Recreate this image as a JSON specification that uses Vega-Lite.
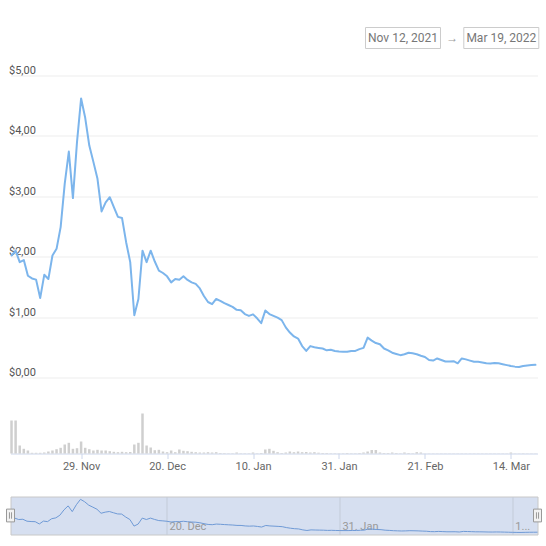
{
  "$schema": "https://vega.github.io/schema/vega-lite/v6.json",
  "padding": {"left": 3.5, "top": 24.5, "right": 4, "bottom": 10},
  "background": "white",
  "config": {"font": "Roboto", "view": {"stroke": null}},
  "datasets": {
    "header": [
      {"part": "from", "text": "Nov 12, 2021"},
      {"part": "arrow", "text": "→"},
      {"part": "to", "text": "Mar 19, 2022"}
    ],
    "range": [{"date": "2021-11-12"}, {"date": "2022-03-20"}],
    "prices": [
      {"date": "2021-11-12", "price": 2.02, "volume": 33},
      {"date": "2021-11-13", "price": 2.10, "volume": 33},
      {"date": "2021-11-14", "price": 1.91, "volume": 8},
      {"date": "2021-11-15", "price": 1.945, "volume": 4.7},
      {"date": "2021-11-16", "price": 1.685, "volume": 3},
      {"date": "2021-11-17", "price": 1.64, "volume": 0.7},
      {"date": "2021-11-18", "price": 1.62, "volume": 0.7},
      {"date": "2021-11-19", "price": 1.315, "volume": 0.7},
      {"date": "2021-11-20", "price": 1.70, "volume": 1},
      {"date": "2021-11-21", "price": 1.63, "volume": 2},
      {"date": "2021-11-22", "price": 2.02, "volume": 3},
      {"date": "2021-11-23", "price": 2.13, "volume": 4.3},
      {"date": "2021-11-24", "price": 2.49, "volume": 5.7},
      {"date": "2021-11-25", "price": 3.21, "volume": 9},
      {"date": "2021-11-26", "price": 3.74, "volume": 10.7},
      {"date": "2021-11-27", "price": 2.97, "volume": 4.7},
      {"date": "2021-11-28", "price": 3.90, "volume": 5.3},
      {"date": "2021-11-29", "price": 4.62, "volume": 12},
      {"date": "2021-11-30", "price": 4.30, "volume": 5.7},
      {"date": "2021-12-01", "price": 3.84, "volume": 4.3},
      {"date": "2021-12-02", "price": 3.57, "volume": 3},
      {"date": "2021-12-03", "price": 3.29, "volume": 3.7},
      {"date": "2021-12-04", "price": 2.75, "volume": 3},
      {"date": "2021-12-05", "price": 2.90, "volume": 3},
      {"date": "2021-12-06", "price": 2.985, "volume": 2.3},
      {"date": "2021-12-07", "price": 2.82, "volume": 1.7},
      {"date": "2021-12-08", "price": 2.66, "volume": 1.3},
      {"date": "2021-12-09", "price": 2.64, "volume": 1.7},
      {"date": "2021-12-10", "price": 2.24, "volume": 1.3},
      {"date": "2021-12-11", "price": 1.91, "volume": 1.5},
      {"date": "2021-12-12", "price": 1.03, "volume": 9},
      {"date": "2021-12-13", "price": 1.30, "volume": 10.7},
      {"date": "2021-12-14", "price": 2.10, "volume": 40},
      {"date": "2021-12-15", "price": 1.91, "volume": 8},
      {"date": "2021-12-16", "price": 2.10, "volume": 6},
      {"date": "2021-12-17", "price": 1.92, "volume": 3.3},
      {"date": "2021-12-18", "price": 1.77, "volume": 3.7},
      {"date": "2021-12-19", "price": 1.73, "volume": 2},
      {"date": "2021-12-20", "price": 1.675, "volume": 1.3},
      {"date": "2021-12-21", "price": 1.575, "volume": 3},
      {"date": "2021-12-22", "price": 1.63, "volume": 1.3},
      {"date": "2021-12-23", "price": 1.62, "volume": 4},
      {"date": "2021-12-24", "price": 1.675, "volume": 2.7},
      {"date": "2021-12-25", "price": 1.615, "volume": 2.3},
      {"date": "2021-12-26", "price": 1.575, "volume": 1.7},
      {"date": "2021-12-27", "price": 1.55, "volume": 1.3},
      {"date": "2021-12-28", "price": 1.475, "volume": 1},
      {"date": "2021-12-29", "price": 1.35, "volume": 1},
      {"date": "2021-12-30", "price": 1.25, "volume": 1.3},
      {"date": "2021-12-31", "price": 1.215, "volume": 1},
      {"date": "2022-01-01", "price": 1.30, "volume": 1.3},
      {"date": "2022-01-02", "price": 1.27, "volume": 0.5},
      {"date": "2022-01-03", "price": 1.23, "volume": 0.4},
      {"date": "2022-01-04", "price": 1.20, "volume": 0.3},
      {"date": "2022-01-05", "price": 1.17, "volume": 0.3},
      {"date": "2022-01-06", "price": 1.12, "volume": 1},
      {"date": "2022-01-07", "price": 1.115, "volume": 0.3},
      {"date": "2022-01-08", "price": 1.05, "volume": 0.3},
      {"date": "2022-01-09", "price": 1.02, "volume": 0.3},
      {"date": "2022-01-10", "price": 1.045, "volume": 1},
      {"date": "2022-01-11", "price": 0.98, "volume": 0.3},
      {"date": "2022-01-12", "price": 0.90, "volume": 0.5},
      {"date": "2022-01-13", "price": 1.11, "volume": 4},
      {"date": "2022-01-14", "price": 1.05, "volume": 4.7},
      {"date": "2022-01-15", "price": 1.02, "volume": 2.7},
      {"date": "2022-01-16", "price": 0.99, "volume": 1.3},
      {"date": "2022-01-17", "price": 0.95, "volume": 0.5},
      {"date": "2022-01-18", "price": 0.83, "volume": 1},
      {"date": "2022-01-19", "price": 0.745, "volume": 2},
      {"date": "2022-01-20", "price": 0.68, "volume": 1.3},
      {"date": "2022-01-21", "price": 0.645, "volume": 2},
      {"date": "2022-01-22", "price": 0.52, "volume": 1.3},
      {"date": "2022-01-23", "price": 0.44, "volume": 1.5},
      {"date": "2022-01-24", "price": 0.52, "volume": 1},
      {"date": "2022-01-25", "price": 0.50, "volume": 1.3},
      {"date": "2022-01-26", "price": 0.49, "volume": 0.8},
      {"date": "2022-01-27", "price": 0.48, "volume": 0.5},
      {"date": "2022-01-28", "price": 0.45, "volume": 0.5},
      {"date": "2022-01-29", "price": 0.46, "volume": 0.3},
      {"date": "2022-01-30", "price": 0.44, "volume": 0.3},
      {"date": "2022-01-31", "price": 0.43, "volume": 0.3},
      {"date": "2022-02-01", "price": 0.425, "volume": 0.3},
      {"date": "2022-02-02", "price": 0.425, "volume": 0.5},
      {"date": "2022-02-03", "price": 0.44, "volume": 0.3},
      {"date": "2022-02-04", "price": 0.44, "volume": 0.3},
      {"date": "2022-02-05", "price": 0.47, "volume": 0.5},
      {"date": "2022-02-06", "price": 0.49, "volume": 1},
      {"date": "2022-02-07", "price": 0.66, "volume": 2},
      {"date": "2022-02-08", "price": 0.61, "volume": 3.5},
      {"date": "2022-02-09", "price": 0.57, "volume": 3.5},
      {"date": "2022-02-10", "price": 0.55, "volume": 1},
      {"date": "2022-02-11", "price": 0.48, "volume": 0.5},
      {"date": "2022-02-12", "price": 0.45, "volume": 0.5},
      {"date": "2022-02-13", "price": 0.41, "volume": 1},
      {"date": "2022-02-14", "price": 0.39, "volume": 0.5},
      {"date": "2022-02-15", "price": 0.37, "volume": 0.3},
      {"date": "2022-02-16", "price": 0.385, "volume": 1},
      {"date": "2022-02-17", "price": 0.41, "volume": 0.5},
      {"date": "2022-02-18", "price": 0.40, "volume": 0.3},
      {"date": "2022-02-19", "price": 0.385, "volume": 1.3},
      {"date": "2022-02-20", "price": 0.36, "volume": 1},
      {"date": "2022-02-21", "price": 0.34, "volume": 0.2},
      {"date": "2022-02-22", "price": 0.29, "volume": 0.2},
      {"date": "2022-02-23", "price": 0.28, "volume": 0.2},
      {"date": "2022-02-24", "price": 0.315, "volume": 0.2},
      {"date": "2022-02-25", "price": 0.29, "volume": 0.2},
      {"date": "2022-02-26", "price": 0.265, "volume": 0.2},
      {"date": "2022-02-27", "price": 0.265, "volume": 0.2},
      {"date": "2022-02-28", "price": 0.27, "volume": 0.2},
      {"date": "2022-03-01", "price": 0.235, "volume": 0.2},
      {"date": "2022-03-02", "price": 0.315, "volume": 0.2},
      {"date": "2022-03-03", "price": 0.30, "volume": 0.2},
      {"date": "2022-03-04", "price": 0.28, "volume": 0.2},
      {"date": "2022-03-05", "price": 0.26, "volume": 0.2},
      {"date": "2022-03-06", "price": 0.26, "volume": 0.2},
      {"date": "2022-03-07", "price": 0.25, "volume": 0.2},
      {"date": "2022-03-08", "price": 0.235, "volume": 0.2},
      {"date": "2022-03-09", "price": 0.23, "volume": 0.2},
      {"date": "2022-03-10", "price": 0.24, "volume": 0.2},
      {"date": "2022-03-11", "price": 0.235, "volume": 0.2},
      {"date": "2022-03-12", "price": 0.22, "volume": 0.2},
      {"date": "2022-03-13", "price": 0.205, "volume": 0.2},
      {"date": "2022-03-14", "price": 0.19, "volume": 1},
      {"date": "2022-03-15", "price": 0.18, "volume": 0.2},
      {"date": "2022-03-16", "price": 0.175, "volume": 0.2},
      {"date": "2022-03-17", "price": 0.19, "volume": 0.2},
      {"date": "2022-03-18", "price": 0.20, "volume": 0.2},
      {"date": "2022-03-19", "price": 0.205, "volume": 0.2},
      {"date": "2022-03-20", "price": 0.21, "volume": 0.2}
    ]
  },
  "spacing": 27,
  "bounds": "flush",
  "vconcat": [
    {
      "width": 527,
      "height": 21,
      "data": {"name": "header"},
      "encoding": {
        "x": {
          "field": "part",
          "type": "nominal",
          "scale": {"type": "point", "domain": ["from", "arrow", "to"], "range": [392.5, 490.8], "padding": 0},
          "axis": null
        }
      },
      "layer": [
        {
          "transform": [{"filter": "datum.part !== 'arrow'"}],
          "mark": {"type": "point", "shape": "M-1,-0.28H1V0.28H-1Z", "size": 5625, "filled": false, "stroke": "#cccccc", "strokeWidth": 1, "opacity": 1}
        },
        {
          "mark": {"type": "text", "fontSize": 12, "font": "Roboto", "align": "center", "baseline": "middle"},
          "encoding": {
            "text": {"field": "text"},
            "color": {"condition": {"test": "datum.part === 'arrow'", "value": "#999999"}, "value": "#777777"}
          }
        }
      ]
    },
    {
      "spacing": 43,
      "bounds": "flush",
      "vconcat": [
        {
          "width": 527,
          "height": 378,
          "data": {"name": "prices"},
          "encoding": {
            "x": {
              "field": "date",
              "type": "temporal",
              "scale": {"type": "utc", "nice": false, "padding": 0, "domain": [
                {"year": 2021, "month": 11, "date": 11, "hours": 18, "utc": true},
                {"year": 2022, "month": 3, "date": 20, "hours": 12, "utc": true}
              ]},
              "axis": {
                "values": [
                  {"year": 2021, "month": 11, "date": 29, "utc": true},
                  {"year": 2021, "month": 12, "date": 20, "utc": true},
                  {"year": 2022, "month": 1, "date": 10, "utc": true},
                  {"year": 2022, "month": 1, "date": 31, "utc": true},
                  {"year": 2022, "month": 2, "date": 21, "utc": true},
                  {"year": 2022, "month": 3, "date": 14, "utc": true}
                ],
                "labelExpr": "utcFormat(datum.value, '%-d. %b')",
                "title": null,
                "grid": false,
                "domainColor": "#ccd6eb",
                "tickColor": "#ccd6eb",
                "tickSize": 5,
                "labelPadding": 2,
                "labelColor": "#666666",
                "labelFontSize": 11,
                "labelFlush": false,
                "labelOverlap": false
              }
            }
          },
          "layer": [
            {
              "mark": {"type": "bar", "size": 2.5, "color": "#cfcfcf"},
              "encoding": {
                "y": {"field": "volume", "type": "quantitative", "scale": {"domain": [0, 60], "range": [378, 318]}, "axis": null}
              }
            },
            {
              "mark": {"type": "line", "color": "#7cb5ec", "strokeWidth": 2, "strokeJoin": "round", "strokeCap": "round"},
              "encoding": {
                "y": {
                  "field": "price",
                  "type": "quantitative",
                  "scale": {"domain": [0, 5], "range": [302, 0]},
                  "axis": {
                    "values": [0, 1, 2, 3, 4, 5],
                    "labelExpr": "'$' + replace(format(datum.value, '.2f'), '.', ',')",
                    "title": null,
                    "grid": true,
                    "gridColor": "#ededed",
                    "domain": false,
                    "ticks": false,
                    "tickSize": 0,
                    "labelAlign": "left",
                    "labelBaseline": "middle",
                    "labelPadding": 2,
                    "labelOffset": -5,
                    "labelColor": "#555555",
                    "labelFontSize": 11
                  }
                }
              }
            }
          ],
          "resolve": {"scale": {"y": "independent"}}
        },
        {
          "width": 527,
          "height": 38,
          "view": {"fill": "#d6dff0", "stroke": "#c8c8c8"},
          "layer": [
            {
              "data": {"name": "prices"},
              "mark": {"type": "line", "color": "#6f9ad6", "strokeWidth": 1},
              "encoding": {
                "x": {
                  "field": "date",
                  "type": "temporal",
                  "scale": {"type": "utc", "nice": false, "domain": [
                    {"year": 2021, "month": 11, "date": 12, "utc": true},
                    {"year": 2022, "month": 3, "date": 20, "utc": true}
                  ]},
                  "axis": {
                    "values": [
                      {"year": 2021, "month": 12, "date": 20, "utc": true},
                      {"year": 2022, "month": 1, "date": 31, "utc": true},
                      {"year": 2022, "month": 3, "date": 14, "utc": true}
                    ],
                    "labelExpr": "datum.value > 1647000000000 ? truncate(utcFormat(datum.value, '%-d. %b'), 4, 'right', '...') : utcFormat(datum.value, '%-d. %b')",
                    "title": null,
                    "grid": true,
                    "gridColor": "#c3cbd8",
                    "domain": false,
                    "ticks": false,
                    "tickSize": 0,
                    "labelAlign": "left",
                    "labelBaseline": "middle",
                    "labelPadding": -8,
                    "labelOffset": 2,
                    "labelColor": "#999999",
                    "labelFontSize": 11,
                    "labelFlush": false,
                    "labelOverlap": false
                  }
                },
                "y": {"field": "price", "type": "quantitative", "scale": {"domain": [-0.1, 5], "zero": false}, "axis": null}
              }
            },
            {
              "data": {"name": "range"},
              "mark": {"type": "point", "shape": "M-0.5,-0.8H0.5V0.8H-0.5Z M-0.13,-0.4V0.4 M0.13,-0.4V0.4", "size": 256, "filled": true, "fill": "#f2f2f2", "stroke": "#999999", "strokeWidth": 1, "opacity": 1},
              "encoding": {
                "x": {"field": "date", "type": "temporal"}
              }
            }
          ]
        }
      ]
    }
  ]
}
